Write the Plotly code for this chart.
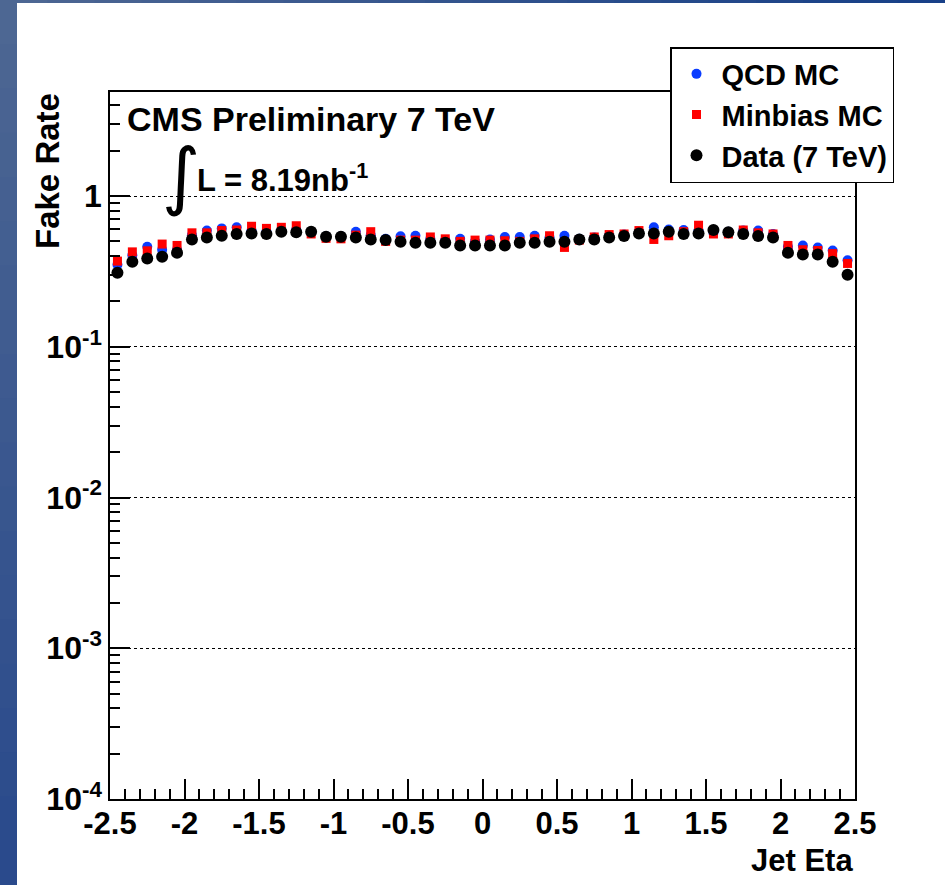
import plotly.graph_objects as go

eta = [round(-2.45 + 0.1 * i, 2) for i in range(50)]

qcd_mc = [0.35, 0.405, 0.46, 0.44, 0.44, 0.55, 0.59, 0.61, 0.62, 0.59,
          0.58, 0.59, 0.60, 0.58, 0.54, 0.54, 0.58, 0.55, 0.52, 0.54,
          0.545, 0.52, 0.51, 0.52, 0.50, 0.515, 0.535, 0.535, 0.545, 0.53,
          0.545, 0.52, 0.53, 0.545, 0.555, 0.58, 0.62, 0.60, 0.595, 0.59,
          0.57, 0.58, 0.59, 0.59, 0.56, 0.46, 0.47, 0.456, 0.435, 0.375]

minbias_mc = [0.37, 0.426, 0.433, 0.48, 0.47, 0.57, 0.57, 0.59, 0.595, 0.63,
              0.61, 0.62, 0.635, 0.56, 0.524, 0.52, 0.55, 0.58, 0.50, 0.51,
              0.51, 0.535, 0.52, 0.50, 0.51, 0.51, 0.505, 0.50, 0.52, 0.545,
              0.456, 0.51, 0.535, 0.555, 0.56, 0.59, 0.515, 0.545, 0.58, 0.64,
              0.56, 0.56, 0.595, 0.57, 0.56, 0.47, 0.44, 0.435, 0.415, 0.357]

data_7tev = [0.31, 0.366, 0.385, 0.395, 0.42, 0.515, 0.53, 0.545, 0.56, 0.565,
             0.56, 0.58, 0.575, 0.58, 0.537, 0.537, 0.53, 0.515, 0.51, 0.497,
             0.49, 0.49, 0.49, 0.47, 0.47, 0.47, 0.47, 0.49, 0.49, 0.497,
             0.497, 0.515, 0.515, 0.53, 0.542, 0.565, 0.565, 0.58, 0.56, 0.565,
             0.595, 0.575, 0.56, 0.542, 0.53, 0.42, 0.41, 0.41, 0.366, 0.30]

x_ticks = [-2.5, -2, -1.5, -1, -0.5, 0, 0.5, 1, 1.5, 2, 2.5]
x_ticktext = ["-2.5", "-2", "-1.5", "-1", "-0.5", "0", "0.5", "1", "1.5", "2", "2.5"]
y_ticks = [1e-4, 1e-3, 1e-2, 1e-1, 1]
y_ticktext = ["10<sup>-4</sup>", "10<sup>-3</sup>", "10<sup>-2</sup>", "10<sup>-1</sup>", "1"]

W, H = 945, 885
L, R, T, B = 110, 90, 92, 86
PW, PH = W - L - R, H - T - B

def px_x(p):
    return (p - L) / PW

def px_y(p):
    return (H - B - p) / PH

FONT = "Liberation Sans, Arial, Helvetica, sans-serif"

fig = go.Figure()
fig.add_trace(go.Scatter(x=eta, y=qcd_mc, mode="markers", name="QCD MC",
                         legendgroup="a",
                         marker=dict(symbol="circle", size=10, color="#0a3cff", line=dict(width=0))))
fig.add_trace(go.Scatter(x=eta, y=minbias_mc, mode="markers", name="Minbias MC",
                         legendgroup="b",
                         marker=dict(symbol="square", size=9, color="#ff0000", line=dict(width=0))))
fig.add_trace(go.Scatter(x=eta, y=data_7tev, mode="markers", name="Data (7 TeV)",
                         legendgroup="c",
                         marker=dict(symbol="circle", size=12, color="#000000", line=dict(width=0))))

# background frame (blue gradient strips)
shapes = []
n = 20
top_c = (77, 103, 147)
bot_c = (42, 74, 140)
for i in range(n):
    f = i / (n - 1)
    c = tuple(int(top_c[k] + (bot_c[k] - top_c[k]) * f) for k in range(3))
    shapes.append(dict(type="rect", xref="paper", yref="paper",
                       x0=px_x(0), x1=px_x(17),
                       y0=px_y(H * (i + 1) / n + 1), y1=px_y(H * i / n),
                       fillcolor="rgb(%d,%d,%d)" % c, line=dict(width=0), layer="below"))
right_c = (24, 64, 136)
for i in range(n):
    f = i / (n - 1)
    c = tuple(int(top_c[k] + (right_c[k] - top_c[k]) * f) for k in range(3))
    shapes.append(dict(type="rect", xref="paper", yref="paper",
                       x0=px_x(W * i / n), x1=px_x(W * (i + 1) / n + 1),
                       y0=px_y(3), y1=px_y(0),
                       fillcolor="rgb(%d,%d,%d)" % c, line=dict(width=0), layer="below"))

annotations = [
    dict(text="<b>CMS Preliminary 7 TeV</b>", xref="paper", yref="paper",
         x=px_x(125), y=px_y(119), xanchor="left", yanchor="middle", showarrow=False,
         font=dict(family=FONT, size=34, color="black")),
    dict(text="∫", xref="paper", yref="paper",
         x=px_x(160), y=px_y(175), xanchor="left", yanchor="middle", showarrow=False,
         font=dict(family="DejaVu Sans", size=74, color="black")),
    dict(text="<b>L = 8.19nb<sup>-1</sup></b>", xref="paper", yref="paper",
         x=px_x(195), y=px_y(178), xanchor="left", yanchor="middle", showarrow=False,
         font=dict(family=FONT, size=31, color="black")),
    dict(text="<b>Jet Eta</b>", xref="paper", yref="paper",
         x=px_x(855), y=px_y(860), xanchor="right", yanchor="middle", showarrow=False,
         font=dict(family=FONT, size=31, color="black")),
    dict(text="<b>Fake Rate</b>", xref="paper", yref="paper",
         x=px_x(47), y=px_y(91), xanchor="center", yanchor="top", showarrow=False,
         textangle=-90, font=dict(family=FONT, size=33, color="black")),
]

fig.update_layout(
    width=W, height=H,
    margin=dict(l=L, r=R, t=T, b=B),
    paper_bgcolor="white", plot_bgcolor="white",
    showlegend=True,
    legend=dict(x=px_x(670), y=px_y(47), xanchor="left", yanchor="top",
                bgcolor="white", bordercolor="black", borderwidth=1.5,
                font=dict(family=FONT, size=29, color="black", weight="bold"),
                traceorder="grouped", tracegroupgap=0, itemwidth=40),
    shapes=shapes,
    annotations=annotations,
)

fig.update_xaxes(range=[-2.5, 2.5], tickvals=x_ticks, ticktext=x_ticktext,
                 ticks="inside", ticklen=20, tickwidth=1.5, tickcolor="black",
                 minor=dict(ticks="inside", ticklen=10, dtick=0.1, tick0=0, tickcolor="black", tickwidth=1.5),
                 showline=True, linecolor="black", linewidth=1.5, mirror=True,
                 showgrid=False, zeroline=False, ticklabelstandoff=-4,
                 tickfont=dict(family=FONT, size=31, color="black", weight="bold"))
fig.update_yaxes(type="log", range=[-4, 0.69], tickvals=y_ticks, ticktext=y_ticktext,
                 ticks="inside", ticklen=20, tickwidth=1.5, tickcolor="black",
                 minor=dict(ticks="inside", ticklen=10, dtick="D1", tickcolor="black", tickwidth=1.5, showgrid=False),
                 showline=True, linecolor="black", linewidth=1.5, mirror=True,
                 showgrid=True, gridcolor="black", griddash="dot", gridwidth=1,
                 zeroline=False,
                 tickfont=dict(family=FONT, size=32, color="black", weight="bold"))

fig.write_html("out.html")
